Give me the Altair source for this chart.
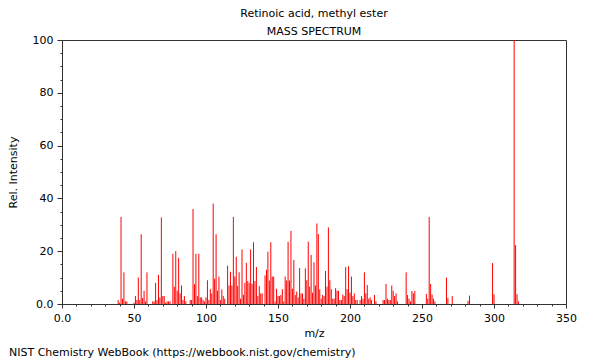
import altair as alt
import pandas as pd

# m/z values and relative intensities
mz = [39, 40, 41, 42, 43, 44, 45,
      50, 51, 52, 53, 54, 55, 56, 57, 58, 59,
      63, 64, 65, 66, 67, 68, 69, 70, 71, 72, 73, 74, 75,
      77, 78, 79, 80, 81, 82, 83, 84, 85, 86,
      89, 90, 91, 92, 93, 94, 95, 96, 97, 98, 99, 100,
      101, 102, 103, 104, 105, 106, 107, 108, 109, 110,
      111, 112, 113, 115, 116, 117, 118, 119, 120,
      121, 122, 123, 124, 125, 126, 127, 128, 129, 130,
      131, 132, 133, 134, 135, 136, 137, 138, 139,
      141, 142, 143, 144, 145, 146, 147, 148, 149, 150,
      151, 152, 153, 154, 155, 156, 157, 158, 159, 160,
      161, 162, 163, 164, 165, 166, 167, 168, 169, 170,
      171, 172, 173, 174, 175, 176, 177, 178, 179, 180,
      181, 182, 183, 184, 185, 186, 187, 188, 189, 190,
      191, 192, 193, 194, 195, 196, 197, 198, 199, 200,
      201, 202, 203, 204, 205, 207, 208, 209, 210,
      211, 212, 213, 214, 215, 217, 218,
      223, 224, 225, 226, 227, 228, 229, 230,
      231, 232, 233, 239, 240,
      241, 242, 243, 244, 245,
      253, 254, 255, 256, 257, 258, 259,
      267, 268, 271, 282, 283,
      299, 300, 314, 315, 316, 317]

intensity = [1.5, 0.5, 33, 2, 12, 1, 1,
             0.5, 3, 1.5, 10, 1.5, 26.4, 2.3, 5, 1, 12,
             1, 1, 8, 1.5, 11, 2.5, 32.8, 3, 3, 0.5, 1, 1, 1,
             19, 6.5, 20, 5, 17.5, 4, 7, 1.5, 3, 1,
             1.5, 1.5, 36, 7.5, 19, 3, 19, 2.5, 2.5, 1.5, 1, 2.5,
             9, 1.5, 5.6, 4, 38, 9.6, 26.4, 5, 10.4, 1.5,
             5.5, 3, 2, 14.5, 7, 12.2, 7, 33, 10.4,
             17.9, 6.8, 12, 2, 20.7, 3.5, 8, 15.6, 8.7, 8,
             20.7, 7.6, 23.4, 8.7, 14, 3, 6.8, 4, 4,
             10.8, 13, 19.8, 8.9, 23.4, 10.4, 10.4, 1, 5.8, 3,
             3, 3.4, 5.6, 1, 10.4, 8.9, 23.6, 8.9, 27.7, 5.8,
             16.7, 3.4, 4.7, 2.5, 13.6, 4, 4, 2, 13.5, 9,
             23.6, 6.6, 18.6, 4.3, 15.8, 7, 30.5, 26.5, 5.5, 2,
             3.4, 3, 12.5, 6.6, 29, 9, 5.6, 2, 2, 6,
             5, 5, 1.5, 1.5, 3.6, 3, 14, 5.6, 14.3, 4.3,
             10.4, 3, 4, 1.5, 1.5, 1.5, 3, 2, 12,
             4, 7.2, 2, 2.5, 1.5, 3.4, 1,
             1.5, 1.5, 7.6, 2, 1.5, 1.5, 7, 5,
             3, 4, 1, 12, 3.4,
             2, 1, 4.9, 4, 4.9,
             3.8, 2, 33, 7.6, 3.6, 2, 1,
             10, 2.2, 3, 1.2, 3.2,
             15.5, 3.7, 100, 22.3, 3.7, 1]

x_ticks = list(range(0, 351, 10))
y_ticks = list(range(0, 101, 5))

title_main = "Retinoic acid, methyl ester"
title_sub = "MASS SPECTRUM"
footer = "NIST Chemistry WebBook (https://webbook.nist.gov/chemistry)"

df = pd.DataFrame({"mz": mz, "intensity": intensity})

FONT = "DejaVu Sans"

x_axis = alt.Axis(
    title="m/z", values=x_ticks,
    labelExpr="datum.value % 50 === 0 ? (datum.value === 0 ? '0.0' : datum.label) : ''",
    tickSize={"condition": {"test": "datum.value % 50 === 0", "value": 4}, "value": 2},
    labelOverlap=False, labelFlush=False, grid=False,
    labelFont=FONT, labelFontSize=11, labelColor="black", labelPadding=4,
    titleFont=FONT, titleFontSize=11, titleFontWeight="normal", titleColor="black",
    titlePadding=4, domainColor="#333", tickColor="#333",
)
y_axis = alt.Axis(
    title="Rel. Intensity", values=y_ticks,
    labelExpr="datum.value % 20 === 0 ? (datum.value === 0 ? '0.0' : datum.label) : ''",
    tickSize={"condition": {"test": "datum.value % 20 === 0", "value": 5}, "value": 2},
    labelOverlap=False, labelFlush=False, grid=False,
    labelFont=FONT, labelFontSize=11, labelColor="black", labelPadding=4,
    titleFont=FONT, titleFontSize=11, titleFontWeight="normal", titleColor="black",
    titlePadding=14, domainColor="#333", tickColor="#333",
)

bars = alt.Chart(df).mark_rule(color="#ff0000", strokeWidth=1).encode(
    x=alt.X("mz:Q", scale=alt.Scale(domain=[0, 350], nice=False, zero=False), axis=x_axis),
    y=alt.Y("intensity:Q", scale=alt.Scale(domain=[0, 100], nice=False), axis=y_axis),
    y2=alt.datum(0),
)

foot = alt.Chart(pd.DataFrame({"t": [footer]})).mark_text(
    align="left", baseline="middle", font=FONT, fontSize=11, color="black"
).encode(text="t:N", x=alt.value(-53), y=alt.value(313))

chart = alt.layer(bars, foot).properties(
    width=504, height=264,
    autosize=alt.AutoSizeParams(type="none"),
    padding={"left": 54, "top": 32, "right": 26, "bottom": 56},
    title=alt.TitleParams(
        text=title_main, subtitle=title_sub,
        font=FONT, fontSize=11, fontWeight="normal", color="black",
        subtitleFont=FONT, subtitleFontSize=11, subtitleColor="black",
        anchor="middle", offset=-3, subtitlePadding=7,
    ),
).configure_view(stroke="#333", strokeWidth=1)

chart.save("out.html", embed_options={"renderer": "svg", "actions": False})
